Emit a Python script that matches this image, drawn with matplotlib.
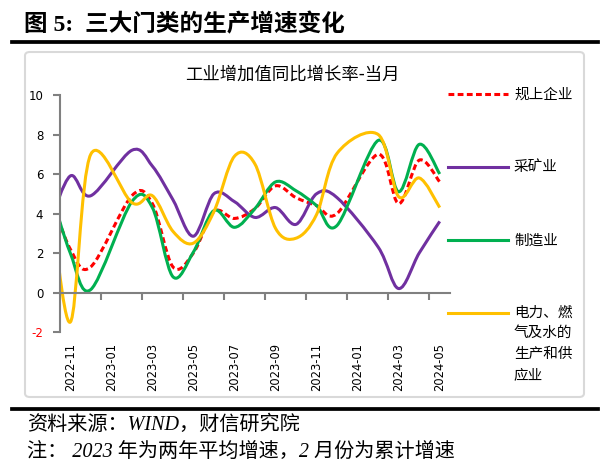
import numpy as np
import matplotlib
matplotlib.use('Agg')
import matplotlib.pyplot as plt
from matplotlib.path import Path
from matplotlib.patches import PathPatch, FancyBboxPatch
from matplotlib.lines import Line2D

plt.rcParams['font.family'] = ['DejaVu Sans', 'Noto Sans CJK SC']
plt.rcParams['axes.unicode_minus'] = False

# ---------------------------------------------------------------------------------------------------------------------
# data: 2022-10 sits just left of the y axis (clipped), January has no data point
months = ['2022-10', '2022-11', '2022-12', '2023-01', '2023-02', '2023-03', '2023-04', '2023-05',
          '2023-06', '2023-07', '2023-08', '2023-09', '2023-10', '2023-11', '2023-12',
          '2024-01', '2024-02', '2024-03', '2024-04', '2024-05']
nan = np.nan
total   = [5.0, 2.2, 1.3, nan, 4.9, 4.5, 1.3, 2.0, 4.1, 3.75, 4.25, 5.4, 4.8, 4.4, 4.0, nan, 7.0, 4.5, 6.7, 5.6]
mining  = [3.5, 5.9, 4.9, nan, 7.2, 6.4, 4.7, 2.85, 5.0, 4.6, 3.8, 4.3, 3.45, 5.0, 4.8, nan, 2.3, 0.2, 2.0, 3.6]
manuf   = [5.3, 2.0, 0.15, nan, 4.6, 4.3, 0.8, 2.05, 4.15, 3.3, 4.25, 5.6, 5.15, 4.4, 3.4, nan, 7.7, 5.1, 7.5, 6.0]
utility = [5.2, -1.5, 7.0, nan, 4.55, 4.9, 3.1, 2.5, 4.1, 6.9, 6.5, 3.25, 2.75, 3.95, 7.05, nan, 8.0, 4.85, 5.8, 4.3]

names = ['规上企业', '采矿业', '制造业', '电力、燃\n气及水的\n生产和供\n应业']
colors = ['#FF0000', '#7030A0', '#00B050', '#FFC000']
styles = [(0, (1.9, 1.1)), '-', '-', '-']

CJK = ['Noto Sans CJK SC', 'DejaVu Sans']
SERIF_CJK = ['Liberation Serif', 'Noto Sans CJK SC']
GRAY = '#808080'


# ---------------------------------------------------------------------------------------------------------------------
def smooth_path(xs, ys):
    """Excel-like smoothed line: cubic bezier through the points, gaps are skipped"""
    pts = np.array([(x, y) for x, y in zip(xs, ys) if not np.isnan(y)], float)
    n = len(pts)
    verts = [pts[0]]
    codes = [Path.MOVETO]
    for k in range(n - 1):
        p0 = pts[max(k - 1, 0)]
        p1 = pts[k]
        p2 = pts[k + 1]
        p3 = pts[min(k + 2, n - 1)]
        verts += [p1 + (p2 - p0) / 6, p2 - (p3 - p1) / 6, p2]
        codes += [Path.CURVE4] * 3
    return Path(verts, codes)


W, H = 610, 468
fig = plt.figure(figsize=(6.1, 4.68), dpi=100)


def fx(px):
    return px / W


def fy(py):
    return 1 - py / H


ax = fig.add_axes([fx(60), fy(332), fx(450) - fx(60), fy(95) - fy(332)])
x = np.arange(len(months)) - 1

for vals, c, ls in zip([total, mining, manuf, utility], colors, styles):
    ax.add_patch(PathPatch(smooth_path(x, vals), fill=False, edgecolor=c, lw=2.2,
                           linestyle=ls, capstyle='butt', joinstyle='round'))

ax.set_xlim(-0.5, 18.5)
ax.set_ylim(-2, 10)
for s in ['top', 'right']:
    ax.spines[s].set_visible(False)
ax.spines['left'].set_color(GRAY)
ax.spines['left'].set_linewidth(1.5)
ax.spines['bottom'].set_position(('data', 0))
ax.spines['bottom'].set_color(GRAY)
ax.spines['bottom'].set_linewidth(1.5)

ax.set_xticks(np.arange(1.5, 18, 2))
ax.tick_params(axis='x', length=5, width=1.5, color=GRAY, labelbottom=False, direction='out')
ax.set_yticks(range(-2, 11, 2))
ax.tick_params(axis='y', length=5, width=1.5, color=GRAY, labelsize=8.5, pad=7)
ax.get_yticklabels()[0].set_color('red')

sec = ax.secondary_xaxis('bottom')
sec.set_xticks(x[1::2], labels=months[1::2], rotation=90, fontsize=8.3)
sec.tick_params(length=0, pad=8)
sec.spines['bottom'].set_visible(False)

# legend, laid out like the excel one
legend_y = [94.3, 167.3, 240.3, 313.3]
for name, c, ls, ly in zip(names, colors, styles, legend_y):
    fig.add_artist(Line2D([fx(448), fx(508)], [fy(ly), fy(ly)], transform=fig.transFigure,
                          color=c, lw=2.2, linestyle=ls, dash_capstyle='butt'))
    if '\n' in name:
        fig.text(fx(514), fy(ly - 8), name, fontsize=10.5, family=CJK, va='top', linespacing=1.62)
    else:
        fig.text(fx(514), fy(ly), name, fontsize=10.5, family=CJK, va='center')

fig.text(fx(292), fy(75), '工业增加值同比增长率-当月', ha='center', va='center', fontsize=12.5, family=CJK)

# frame, rules and captions
fig.add_artist(FancyBboxPatch((fx(25), fy(397)), fx(584) - fx(25), fy(52) - fy(397),
                              boxstyle='round,pad=0,rounding_size=0.008', transform=fig.transFigure,
                              fc='none', ec='#d9d9d9', lw=1.5))
for ry in [42, 409]:
    fig.add_artist(Line2D([fx(12), fx(598)], [fy(ry), fy(ry)], transform=fig.transFigure,
                          color='black', lw=2.7))

fig.text(fx(24), fy(25), '图 5:  三大门类的生产增速变化', fontsize=17, fontweight='bold',
         family=SERIF_CJK, va='center')
fig.text(fx(27), fy(425), '资料来源：WIND，财信研究院', fontsize=14.5, style='italic',
         family=SERIF_CJK, va='center')
fig.text(fx(27), fy(452), '注： 2023 年为两年平均增速，2 月份为累计增速', fontsize=14.5, style='italic',
         family=SERIF_CJK, va='center')

fig.savefig('out.png', dpi=100)
